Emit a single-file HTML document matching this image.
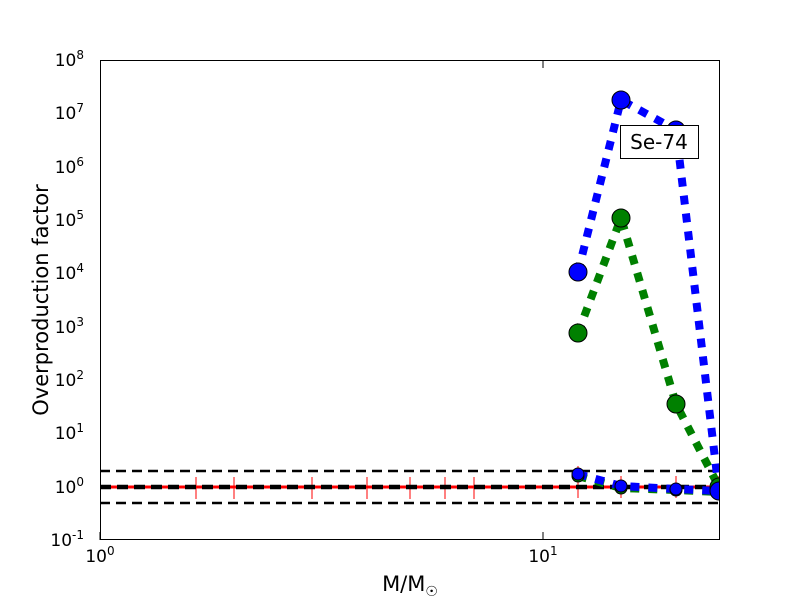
<!DOCTYPE html>
<html><head><style>body{margin:0;background:#fff}svg{display:block;font-family:"DejaVu Sans","Liberation Sans",sans-serif}</style></head><body>
<svg width="800" height="600" viewBox="0 0 800 600">
<rect width="800" height="600" fill="#fff"/>
<defs><clipPath id="c"><rect x="100" y="60" width="620" height="480"/></clipPath></defs>
<g clip-path="url(#c)">
<line x1="100" y1="487" x2="720" y2="487" stroke="#f00" stroke-width="3"/>
<g stroke="#f00" stroke-width="1">
<line x1="196" y1="477" x2="196" y2="499"/><line x1="234" y1="477" x2="234" y2="499"/><line x1="312" y1="477" x2="312" y2="499"/><line x1="367" y1="477" x2="367" y2="499"/><line x1="410" y1="477" x2="410" y2="499"/><line x1="445" y1="477" x2="445" y2="499"/><line x1="474" y1="477" x2="474" y2="499"/><line x1="578" y1="466" x2="578" y2="498"/><line x1="621" y1="476" x2="621" y2="498"/><line x1="676" y1="476" x2="676" y2="498"/><line x1="719" y1="476" x2="719" y2="498"/>
</g>
<g stroke="#000" stroke-width="2.5" stroke-dasharray="10,6">
<line x1="100" y1="471" x2="720" y2="471"/><line x1="100" y1="503" x2="720" y2="503"/>
</g>
<line x1="100" y1="487" x2="720" y2="487" stroke="#000" stroke-width="4.5" stroke-dasharray="11,6"/>
<g fill="none" stroke-width="8" stroke-dasharray="9,9">
<polyline points="578,476 621,488 676,490 719,492" stroke="#008000"/>
<polyline points="578,474 621,486 676,489 719,491" stroke="#00f"/>
<polyline points="578,333 621,218 676,404 719,487" stroke="#008000"/>
<polyline points="578,272 621,100 676,130 719,492" stroke="#00f"/>
</g>
<g stroke="#000" stroke-width="1">
<circle cx="578" cy="476" r="6" fill="#008000"/><circle cx="621" cy="488" r="6" fill="#008000"/><circle cx="676" cy="490" r="6" fill="#008000"/>
<circle cx="578" cy="474" r="6" fill="#00f"/><circle cx="621" cy="486" r="6" fill="#00f"/><circle cx="676" cy="489" r="6" fill="#00f"/>
<circle cx="578" cy="333" r="9" fill="#008000"/><circle cx="621" cy="218" r="9" fill="#008000"/><circle cx="676" cy="404" r="9" fill="#008000"/><circle cx="719" cy="487" r="9" fill="#008000"/>
<circle cx="578" cy="272" r="9" fill="#00f"/><circle cx="621" cy="100" r="9" fill="#00f"/><circle cx="676" cy="130" r="9" fill="#00f"/><circle cx="719" cy="491" r="9" fill="#00f"/>
</g>
</g>
<rect x="620.5" y="125.5" width="78" height="33" fill="#fff" stroke="#000"/>
<text x="659" y="149" font-size="20" text-anchor="middle">Se-74</text>
<rect x="100.5" y="60.5" width="619" height="479" fill="none" stroke="#000"/>
<g stroke="#000" stroke-width="1">
<line x1="543" y1="540" x2="543" y2="532"/><line x1="543" y1="60" x2="543" y2="68"/>
<line x1="100" y1="540" x2="100" y2="532"/>
</g>
<g id="yt" stroke="#000"></g>
<g font-size="17" text-anchor="end">
<text x="84" y="546">10<tspan font-size="12" dy="-7">-1</tspan></text>
<text x="84" y="493">10<tspan font-size="12" dy="-7">0</tspan></text>
<text x="84" y="439">10<tspan font-size="12" dy="-7">1</tspan></text>
<text x="84" y="386">10<tspan font-size="12" dy="-7">2</tspan></text>
<text x="84" y="333">10<tspan font-size="12" dy="-7">3</tspan></text>
<text x="84" y="279">10<tspan font-size="12" dy="-7">4</tspan></text>
<text x="84" y="226">10<tspan font-size="12" dy="-7">5</tspan></text>
<text x="84" y="173">10<tspan font-size="12" dy="-7">6</tspan></text>
<text x="84" y="119">10<tspan font-size="12" dy="-7">7</tspan></text>
<text x="84" y="66">10<tspan font-size="12" dy="-7">8</tspan></text>
</g>
<g font-size="17" text-anchor="middle">
<text x="100" y="562">10<tspan font-size="12" dy="-7">0</tspan></text>
<text x="543" y="562">10<tspan font-size="12" dy="-7">1</tspan></text>
</g>
<text x="410" y="591" font-size="21" text-anchor="middle">M/M<tspan font-size="14" dy="5">☉</tspan></text>
<text transform="translate(48,300) rotate(-90)" font-size="21" text-anchor="middle">Overproduction factor</text>
<script>
var g=document.getElementById('yt'),s='';
for(var d=0;d<9;d++){for(var k=1;k<10;k++){var y=540-53.33*(d+Math.log10(k));var L=k==1?8:4;
s+='<line x1="100" x2="'+(100+L)+'" y1="'+y+'" y2="'+y+'"/><line x1="720" x2="'+(720-L)+'" y1="'+y+'" y2="'+y+'"/>';}}
s+='<line x1="100" x2="108" y1="60" y2="60"/><line x1="720" x2="712" y1="60" y2="60"/>';
for(var k=2;k<10;k++){var x=100+443*Math.log10(k);s+='<line x1="'+x+'" x2="'+x+'" y1="540" y2="536"/><line x1="'+x+'" x2="'+x+'" y1="60" y2="64"/>';}
for(var k=2;k<3;k++){var x=543+443*Math.log10(k);s+='<line x1="'+x+'" x2="'+x+'" y1="540" y2="536"/><line x1="'+x+'" x2="'+x+'" y1="60" y2="64"/>';}
g.innerHTML=s;
</script>
</svg>
</body></html>
